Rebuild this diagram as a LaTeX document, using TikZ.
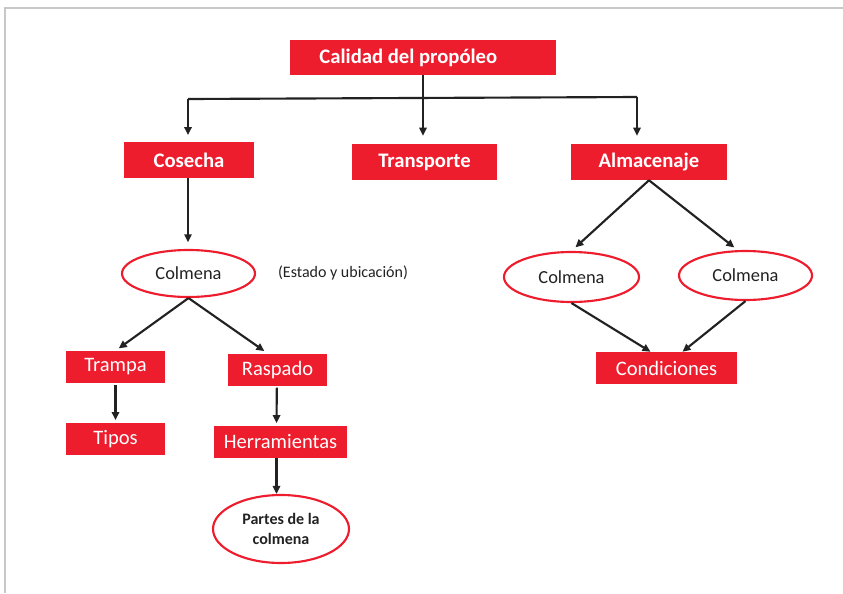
\documentclass[tikz,border=0pt]{standalone}
\usepackage{fontspec}
\setmainfont{Carlito}
\usepackage{tikz}
\usetikzlibrary{shapes.geometric}
\usetikzlibrary{arrows.meta}

\definecolor{rojo}{RGB}{237,29,46}
\definecolor{gris}{RGB}{200,200,200}
\definecolor{tinta}{RGB}{34,34,34}

\begin{document}
\begin{tikzpicture}[x=0.75pt,y=0.75pt,yscale=-1,xscale=1,
  rbox/.style={fill=rojo,text=white,inner sep=0pt,minimum height=24pt,font=\fontsize{15.4}{18}\selectfont},
  rhead/.style={rbox,minimum height=27pt,font=\bfseries\fontsize{15.5}{18}\selectfont},
  oval/.style={ellipse,draw=rojo,line width=1.6pt,fill=white,inner sep=0pt,text=tinta,font=\fontsize{13.8}{16}\selectfont},
  arr/.style={draw=tinta,line width=1.6pt,-{Triangle[length=6pt,width=5.5pt]}}]
\useasboundingbox (0,0) rectangle (843,593);

%frame
\draw [gris,line width=1.5pt] (4,8) -- (843,8) ;
\draw [gris,line width=1.5pt] (5,8) -- (5,593) ;

%top row
\node [rhead,minimum width=199.5pt,minimum height=26.25pt] (cal) at (423,57.5) {Calidad del propóleo\kern22pt};
\node [rhead,minimum width=97.5pt] (cos) at (189,160) {Cosecha};
\node [rhead,minimum width=108.75pt] (trans) at (424.5,162) {Transporte};
\node [rhead,minimum width=117pt] (alm) at (649,162) {Almacenaje};

%left branch
\node [oval,minimum width=99.75pt,minimum height=35.25pt] (colC) at (188.5,273.5) {Colmena};
\node [text=tinta,font=\fontsize{12}{14}\selectfont] (estado) at (343,273) {(Estado y ubicación)};
\node [rbox,minimum width=74.25pt] (trampa) at (115.5,367) {Trampa};
\node [rbox,minimum width=74.25pt] (tipos) at (115.5,439) {Tipos};
\node [rbox,minimum width=74.25pt] (raspado) at (277.5,370) {Raspado};
\node [rbox,minimum width=99.75pt] (herr) at (280.5,442) {Herramientas};
\node [oval,minimum width=102pt,minimum height=51pt,align=center,font=\bfseries\fontsize{12}{15}\selectfont] (partes) at (281,529) {Partes de la\\colmena};

%right branch
\node [oval,minimum width=101.25pt,minimum height=37.5pt] (colA) at (571.5,277) {Colmena};
\node [oval,minimum width=99.75pt,minimum height=36.75pt] (colB) at (745.5,275.5) {Colmena};
\node [rbox,minimum width=105.75pt] (cond) at (666.5,368) {Condiciones};

%connectors
\coordinate (tl) at (188,99);
\coordinate (tr) at (637,97);
\draw [tinta,line width=1.6pt] (tl) -- (tr) ;
\draw [arr,shorten >=6pt] (cal.south) -- (cal.south |- trans.north) ;
\draw [arr,shorten >=5pt] (tl) -- (tl |- cos.north) ;
\draw [arr,shorten >=6pt] (tr) -- (tr |- alm.north) ;
\draw [arr,shorten >=5pt] (cos.south -| tl) -- (tl |- colC.north) ;
\draw [arr,shorten >=3pt] (colC.south) -- (trampa.north) ;
\draw [arr,shorten >=3.5pt] (colC.south) -- ([xshift=-7pt]raspado.north) ;
\draw [arr,shorten >=2pt,shorten <=1.5pt] (trampa.south) -- (tipos.north) ;
\draw [arr,shorten >=2pt,shorten <=1pt] ([xshift=-0.5pt]raspado.south) -- ([xshift=-3pt]herr.north) ;
\draw [arr] ([xshift=-3pt]herr.south) -- ([xshift=-3pt]herr.south |- partes.north) ;
\draw [arr,shorten >=4pt] (alm.south) -- (colA.north) ;
\draw [arr,shorten >=3pt] (alm.south) -- ([xshift=-6pt]colB.north) ;
\draw [arr] (colA.south) -- ([xshift=-12pt]cond.north) ;
\draw [arr] (colB.south) -- ([xshift=12pt]cond.north) ;

\end{tikzpicture}
\end{document}
